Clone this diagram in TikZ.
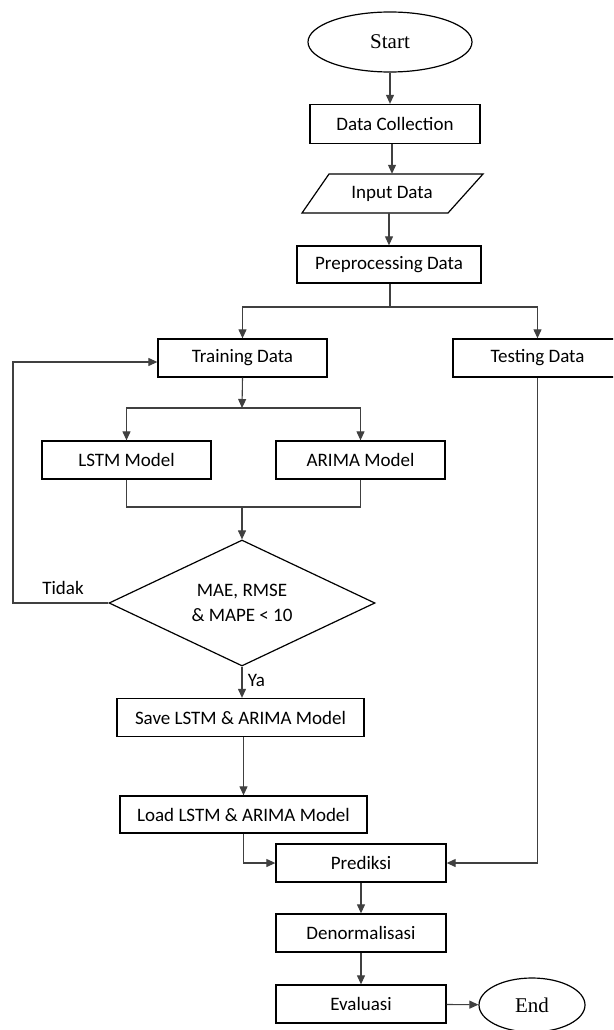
\documentclass[tikz,border=0pt]{standalone}
\usepackage{fontspec}
\setmainfont{Carlito}
\newfontfamily\serifx{Liberation Serif}
\usetikzlibrary{shapes.geometric,arrows.meta}
\begin{document}
\begin{tikzpicture}[x=1pt,y=1pt,
  every node/.style={font=\fontsize{19}{25}\selectfont},
  box/.style={draw=black, line width=1.3pt, rectangle, inner sep=0pt, minimum height=38pt},
  term/.style={draw=black, line width=1.2pt, ellipse, inner sep=0pt, font=\serifx\fontsize{21}{25}\selectfont},
  conn/.style={draw=black!75, line width=1.1pt},
  arr/.style={conn, -{Triangle[length=9pt,width=8pt]}}]
\useasboundingbox (0,0) rectangle (613,-1030);
\clip (0,0) rectangle (613,-1030);

\node[term, minimum width=164pt, minimum height=60pt] (start) at (390,-42) {Start};
\node[box, minimum width=170pt, minimum height=39pt] (dc) at (395,-124) {Data Collection};
\node[inner sep=0pt, minimum width=146pt, minimum height=39pt] (input) at (392,-193.5) {Input Data};
\draw[line width=1.2pt] (329,-174) -- (483,-174) -- (448,-213) -- (302,-213) -- cycle;
\node[box, minimum width=184pt, minimum height=37pt] (pre) at (389,-264.5) {Preprocessing Data};
\node[box, minimum width=169pt] (train) at (242.5,-358) {Training Data};
\node[box, minimum width=169pt] (test) at (537.5,-358) {Testing Data};
\node[box, minimum width=169pt] (lstm) at (126.5,-460) {LSTM Model};
\node[box, minimum width=169pt] (arima) at (360.5,-460) {ARIMA Model};
\node[draw=black, line width=1.2pt, diamond, aspect=2.1, inner sep=0pt, minimum width=266pt, minimum height=126pt, align=center] (dia) at (242,-603) {MAE, RMSE\\ \& MAPE < 10};
\node (tidak) at (63,-588) {Tidak};
\node[box, minimum width=247pt] (save) at (240.5,-717.5) {Save LSTM \& ARIMA Model};
\node[box, minimum width=247pt, minimum height=37pt] (load) at (243.5,-814.5) {Load LSTM \& ARIMA Model};
\node[box, minimum width=170pt] (pred) at (361,-863) {Prediksi};
\node[box, minimum width=170pt] (den) at (361,-933) {Denormalisasi};
\node[box, minimum width=170pt] (eval) at (361,-1004) {Evaluasi};
\node[term, minimum width=106pt, minimum height=54pt] (end) at (532,-1005) {End};

\coordinate (br) at (390,-307);
\coordinate (bt) at (242,-408);
\coordinate (mg) at (242,-507);
\coordinate (lp) at (13,-603);

\draw[arr] (start.south) -- (start.south |- dc.north);
\draw[arr] (dc.south -| input.north) -- (input.north);
\draw[arr] (input.south -| pre.north) -- (pre.north);
\draw[conn] (pre.south -| br) -- (br);
\draw[arr] (br) -| (train.north);
\draw[arr] (br) -| (test.north);
\draw[arr] (train.south) -- (bt);
\draw[arr] (bt) -| (lstm.north);
\draw[arr] (bt) -| (arima.north);
\draw[conn] (lstm.south) |- (mg) -| (arima.south);
\draw[arr] (mg) -- (dia.north);
\draw[arr] (dia.west) -- (lp) |- ([yshift=-4pt]train.west);
\draw[arr] (dia.south) -- node[right, pos=0.45, xshift=2pt] (ya) {Ya} (dia.south |- save.north);
\draw[arr] (save.south -| load.north) -- (load.north);
\draw[arr] (load.south) |- (pred.west);
\draw[arr] (test.south) |- (pred.east);
\draw[arr] (pred) -- (den);
\draw[arr] (den) -- (eval);
\draw[arr] (eval) -- (end);
\end{tikzpicture}
\end{document}
